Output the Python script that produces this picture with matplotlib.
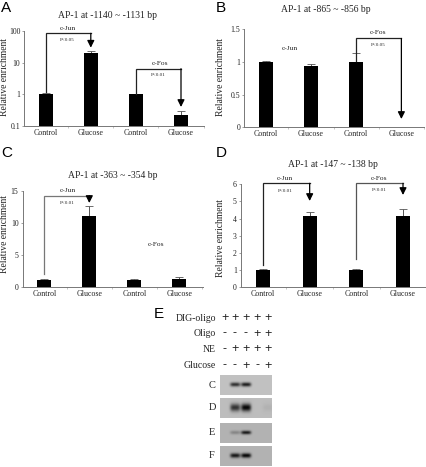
import numpy as np
import matplotlib
matplotlib.use("Agg")
import matplotlib.pyplot as plt
from matplotlib.ticker import FixedLocator, FixedFormatter, NullLocator

W, H = 427, 467
SERIF = "Liberation Serif"
SANS = "Liberation Sans"
TXT = "#222222"

categories = ["Control", "Glucose", "Control", "Glucose"]

values_a = [1.0, 19.5, 1.0, 0.23]
errtop_a = [1.12, 22.6, 1.06, 0.295]
values_b = [1.0, 0.94, 1.0, 0.0]
errtop_b = [1.01, 0.97, 1.14, 0.0]
values_c = [1.0, 11.0, 1.0, 1.2]
errtop_c = [1.15, 12.6, 1.2, 1.45]
values_d = [1.02, 4.15, 1.02, 4.15]
errtop_d = [1.05, 4.4, 1.05, 4.55]

yticks_a = [0.1, 1, 10, 100]
ylabels_a = ["0.1", "1", "10", "100"]
yticks_b = [0, 0.5, 1, 1.5]
ylabels_b = ["0", "0.5", "1", "1.5"]
yticks_c = [0, 5, 10, 15]
ylabels_c = ["0", "5", "10", "15"]
yticks_d = [0, 1, 2, 3, 4, 5, 6]
ylabels_d = ["0", "1", "2", "3", "4", "5", "6"]

gel_rows = ["DIG-oligo", "Oligo", "NE", "Glucose"]
gel_signs = [["+", "+", "+", "+", "+"],
             ["-", "-", "-", "+", "+"],
             ["-", "+", "+", "+", "+"],
             ["-", "-", "+", "-", "+"]]
blot_names = ["C", "D", "E", "F"]
# band strength per lane
blot_c = [0.0, 0.80, 0.90, 0.0, 0.0]
blot_d = [0.0, 0.75, 1.00, 0.0, 0.06]
blot_e = [0.0, 0.25, 0.85, 0.0, 0.0]
blot_f = [0.0, 0.85, 0.95, 0.0, 0.0]
blot_bg = [0.76, 0.74, 0.70, 0.70]
blot_height = [0.9, 1.7, 0.8, 1.0]

fig = plt.figure(figsize=(W / 100, H / 100), dpi=100, facecolor="white")


def fx(px):
    return px / W


def fy(py):
    return 1 - py / H


def label(px, py, s, size, family=SERIF, rot=0, color=TXT):
    fig.text(fx(px), fy(py), s, fontsize=size, family=family, rotation=rot,
             ha="center", va="center", color=color)


def make_axes(left, right, top, bottom, centers, ylim, values, errtop,
              yticks, ylabels, log=False):
    ax = fig.add_axes([fx(left), fy(bottom), (right - left) / W, (bottom - top) / H])
    pitch = (centers[3] - centers[0]) / 3
    ax.set_xlim((left - centers[0]) / pitch, (right - centers[0]) / pitch)
    if log:
        ax.set_yscale("log")
    ax.set_ylim(*ylim)
    xs = np.arange(4)
    base = ylim[0]
    vals = np.array(values, dtype=float)
    tops = np.array(errtop, dtype=float)
    ax.bar(xs, vals - base, bottom=base, width=14 / pitch, color="black", zorder=3)
    mask = tops > vals
    ax.errorbar(xs[mask], vals[mask], yerr=[np.zeros(mask.sum()), (tops - vals)[mask]],
                fmt="none", ecolor="#555555", elinewidth=0.7, capsize=2.6,
                capthick=0.6, zorder=2)
    for s in ("top", "right"):
        ax.spines[s].set_visible(False)
    for s in ("left", "bottom"):
        ax.spines[s].set_color("#777777")
        ax.spines[s].set_linewidth(0.7)
    ax.yaxis.set_major_locator(FixedLocator(yticks))
    ax.yaxis.set_major_formatter(FixedFormatter(ylabels))
    ax.yaxis.set_minor_locator(NullLocator())
    ax.set_xticks(xs + 0.5)
    ax.set_xticklabels([])
    ax.tick_params(axis="x", length=1.2, width=0.4, color="#999999")
    ax.tick_params(axis="y", length=1.5, width=0.5, color="#777777", pad=1.5,
                   labelsize=5.6, labelcolor=TXT)
    for t in ax.get_yticklabels():
        t.set_family(SERIF)
    for x, c in zip(xs, categories):
        ax.annotate(c, (x, 0), xycoords=ax.get_xaxis_transform(), xytext=(0, -5),
                    textcoords="offset points", ha="center", va="center",
                    fontsize=5.7, family=SERIF, color=TXT)
    return ax


def bracket(ax, x0, x1, y_start, y_top, y_end, color="#222222"):
    """x in bar units; y as pixels from the top of the figure."""
    box = ax.get_position()
    frac = lambda py: (fy(py) - box.y0) / box.height
    tr = ax.get_xaxis_transform()
    ax.plot([x0, x0, x1], [frac(y_start), frac(y_top), frac(y_top)], transform=tr,
            color=color, lw=0.9, clip_on=False, zorder=4, solid_joinstyle="miter")
    ax.annotate("", xy=(x1, frac(y_end)), xytext=(x1, frac(y_top)),
                xycoords=tr, textcoords=tr,
                arrowprops=dict(arrowstyle="-|>,head_length=0.42,head_width=0.21",
                                color="black", lw=0.9, shrinkA=0, shrinkB=0),
                zorder=5)


# ---- Panel A
a = make_axes(24.5, 204, 30.7, 126.3, [45.7, 90.7, 136, 181], (0.1, 100),
              values_a, errtop_a, yticks_a, ylabels_a, log=True)
bracket(a, 0, 1, 92, 33.3, 47.7)
bracket(a, 2, 3, 94, 68.7, 107)
label(107.5, 15.7, "AP-1 at -1140 ~ -1131 bp", 6.9)
label(68, 28.3, "c-Jun", 5.4)
label(67, 39.7, "P<0.05", 3.6)
label(159.5, 63.7, "c-Fos", 5.4)
label(158, 75.3, "P<0.01", 3.6)
label(4.5, 77, "Relative enrichment", 6.9, rot=90)
label(6.5, 7.5, "A", 11, SANS, color="black")

# ---- Panel B
b = make_axes(244.3, 424, 29.3, 127.3, [265.7, 311, 356.3, 401.6], (0, 1.5),
              values_b, errtop_b, yticks_b, ylabels_b)
bracket(b, 2, 3, 61, 38.5, 119)
label(326, 9.7, "AP-1 at -865 ~ -856 bp", 6.9)
label(290, 48.3, "c-Jun", 5.4)
label(378.5, 32.5, "c-Fos", 5.4)
label(378, 44.7, "P<0.05", 3.6)
label(220.5, 77.5, "Relative enrichment", 6.9, rot=90)
label(221, 7.5, "B", 11, SANS, color="black")

# ---- Panel C
c = make_axes(22.7, 202.7, 190.7, 286.7, [44.3, 89.3, 134.3, 179.3], (0, 15),
              values_c, errtop_c, yticks_c, ylabels_c)
bracket(c, 0, 1, 274, 195.7, 203, color="#777777")
label(113, 176, "AP-1 at -363 ~ -354 bp", 6.9)
label(67.5, 190.5, "c-Jun", 5.4)
label(67.5, 202.7, "P<0.01", 3.6)
label(156.5, 244.7, "c-Fos", 5.4)
label(4.5, 234, "Relative enrichment", 6.9, rot=90)
label(6.5, 153, "C", 11, SANS, color="black")

# ---- Panel D
d = make_axes(241, 427, 184.3, 287, [263, 310, 356.7, 403], (0, 6),
              values_d, errtop_d, yticks_d, ylabels_d)
bracket(d, 0, 1, 265, 183.3, 201)
bracket(d, 2, 3, 259, 183.3, 195, color="#555555")
label(332.5, 164.3, "AP-1 at -147 ~ -138 bp", 6.9)
label(285, 178, "c-Jun", 5.4)
label(285, 190.7, "P<0.01", 3.6)
label(379, 178, "c-Fos", 5.4)
label(379, 189.7, "P<0.01", 3.6)
label(221, 238, "Relative enrichment", 6.9, rot=90)
label(221.5, 153, "D", 11, SANS, color="black")

# ---- Panel E
label(158.5, 314.5, "E", 11, SANS, color="black")
lane_px = [225, 235, 246, 257.3, 267.7]
row_py = [318.5, 333.5, 349, 365.5]
for name, signs, py in zip(gel_rows, gel_signs, row_py):
    fig.text(fx(216), fy(py), name, fontsize=7, family=SERIF, ha="right",
             va="center", color=TXT)
    for x, s in zip(lane_px, signs):
        label(x, py, s, 9, SANS)

blot_boxes = [(375.3, 395), (398, 418), (422.7, 442.7), (446, 465.7)]
blot_data = [blot_c, blot_d, blot_e, blot_f]
left_px, right_px = 220, 271.7
for name, box, lanes, bg, hgt in zip(blot_names, blot_boxes, blot_data, blot_bg, blot_height):
    top, bottom = box
    ax = fig.add_axes([fx(left_px), fy(bottom), (right_px - left_px) / W, (bottom - top) / H])
    xx, yy = np.meshgrid(np.linspace(left_px, right_px, 104), np.linspace(top, bottom, 40))
    img = np.full(xx.shape, bg)
    yc = (top + bottom) / 2 - 0.5
    for x, v in zip(lane_px, lanes):
        img -= v * 0.72 * np.exp(-((xx - x) / 5.0) ** 4 - ((yy - yc) / (2.3 * hgt)) ** 2)
    ax.imshow(np.clip(img, 0.03, 1), cmap="gray", vmin=0, vmax=1, aspect="auto",
              extent=(left_px, right_px, bottom, top), interpolation="bilinear")
    ax.axis("off")
    label(212, (top + bottom) / 2, name, 7.5)

fig.savefig("out.png", dpi=100, facecolor="white")
